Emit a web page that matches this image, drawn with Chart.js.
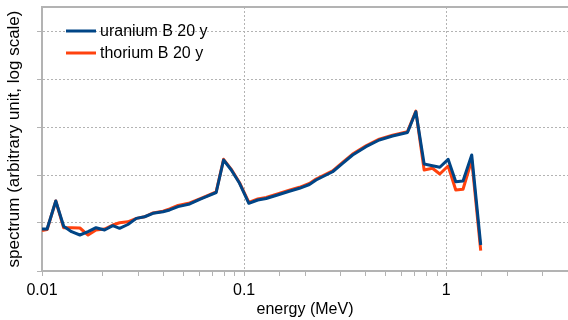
<!DOCTYPE html>
<html>
<head>
<meta charset="utf-8">
<script src="https://cdn.jsdelivr.net/npm/chart.js@4.4.0/dist/chart.umd.min.js"></script>
<style>
  html, body { margin: 0; padding: 0; background: #fff; }
  #wrap { width: 568px; height: 320px; }
</style>
</head>
<body>
<div id="wrap"><canvas id="chart" width="568" height="320"></canvas></div>
<script>
// energy (MeV)
const energies = [0.0100, 0.0106, 0.0117, 0.0128, 0.0140, 0.0154, 0.0169, 0.0185, 0.0204, 0.0224,
  0.0242, 0.0266, 0.0293, 0.0322, 0.0354, 0.0397, 0.0428, 0.0471, 0.0538, 0.0603,
  0.0650, 0.0727, 0.0791, 0.0864, 0.0949, 0.1055, 0.1168, 0.1285, 0.1462, 0.1657,
  0.1877, 0.2103, 0.2269, 0.2740, 0.3070, 0.3440, 0.4006, 0.4660, 0.5420, 0.6427,
  0.7070, 0.7770, 0.8540, 0.9288, 1.021, 1.114, 1.210, 1.336, 1.480];

// spectrum, arbitrary unit
const uranium = [7.50, 7.50, 28.7, 8.54, 6.59, 5.62, 6.59, 7.98, 7.15, 8.79,
  7.76, 9.31, 12.5, 13.5, 15.9, 17.2, 18.7, 21.9, 24.9, 31.2,
  35.3, 43.2, 205, 127, 67.1, 25.7, 30.1, 32.4, 38.3, 45.3,
  52.8, 63.4, 78.7, 117, 175, 261, 389, 536, 649, 768,
  2084, 169, 156, 145, 212, 72.5, 75, 261, 3.48];

const thorium = [7.0, 7.3, 28.7, 7.98, 7.98, 7.87, 5.62, 7.15, 7.50, 9.09,
  10.1, 10.6, 12.5, 13.5, 16.2, 17.6, 19.6, 23.2, 26.1, 31.8,
  36.5, 44.5, 212, 131, 69, 27.0, 31.6, 34.0, 40.2, 47.5,
  55.4, 66.5, 82.5, 122, 183, 272, 405, 560, 675, 800,
  2150, 127, 138, 105, 154, 48.7, 50.4, 205, 2.65];

const seriesLabels = ['uranium B 20 y', 'thorium B 20 y'];
const seriesColors = ['#004586', '#ff420e'];
const xTickLabels = ['0.01', '0.1', '1'];
const yGridValues = [1, 10, 100, 1000, 10000, 100000];

const gridGray = '#b3b3b3';
const font = "'Liberation Sans', Arial, sans-serif";

function isMajorX(v) {
  return xTickLabels.some(l => Math.abs(parseFloat(l) - v) < 1e-9);
}

function toPoints(ys) {
  return energies.map((e, i) => ({ x: e, y: ys[i] }));
}

// legend drawn inside the plot area, top left
const insideLegend = {
  id: 'insideLegend',
  afterDraw(chart) {
    const { ctx, chartArea } = chart;
    ctx.save();
    // top frame line
    ctx.strokeStyle = gridGray;
    ctx.lineWidth = 2;
    ctx.beginPath();
    ctx.moveTo(chartArea.left, chartArea.top);
    ctx.lineTo(chartArea.right, chartArea.top);
    ctx.stroke();

    ctx.font = '16px ' + font;
    ctx.textBaseline = 'middle';
    chart.data.datasets.forEach((ds, i) => {
      const y = chartArea.top + 24 + i * 22;
      ctx.strokeStyle = ds.borderColor;
      ctx.lineWidth = 3;
      ctx.beginPath();
      ctx.moveTo(chartArea.left + 24, y);
      ctx.lineTo(chartArea.left + 54, y);
      ctx.stroke();
      ctx.fillStyle = '#000';
      ctx.fillText(ds.label, chartArea.left + 58, y + 1);
    });
    ctx.restore();
  }
};

new Chart(document.getElementById('chart'), {
  type: 'line',
  data: {
    datasets: [
      {
        label: seriesLabels[0],
        data: toPoints(uranium),
        borderColor: seriesColors[0],
        backgroundColor: seriesColors[0],
        borderWidth: 3,
        pointRadius: 0,
        borderJoinStyle: 'round',
      },
      {
        label: seriesLabels[1],
        data: toPoints(thorium),
        borderColor: seriesColors[1],
        backgroundColor: seriesColors[1],
        borderWidth: 3,
        pointRadius: 0,
        borderJoinStyle: 'round',
      },
    ]
  },
  options: {
    responsive: false,
    animation: false,
    layout: { padding: { top: 7, right: 0, left: 0, bottom: 0 } },
    plugins: {
      legend: { display: false },
      tooltip: { enabled: false },
    },
    scales: {
      x: {
        type: 'logarithmic',
        min: 0.01,
        max: 4,
        afterBuildTicks: (axis) => {
          axis.ticks = axis.ticks.filter(t => t.value >= 0.01 && t.value <= 4);
        },
        afterFit: (axis) => {
          axis.height = 49;
          axis.paddingLeft = 0;
          axis.paddingRight = 0;
        },
        ticks: {
          autoSkip: false,
          maxRotation: 0,
          padding: 5,
          color: '#000',
          font: { family: font, size: 16 },
          callback: (v) => {
            const hit = xTickLabels.find(l => Math.abs(parseFloat(l) - v) < 1e-9);
            return hit || '';
          },
        },
        grid: {
          color: (c) => (c.tick && isMajorX(c.tick.value)) ? gridGray : 'rgba(0,0,0,0)',
          tickColor: gridGray,
          tickLength: 5,
          lineWidth: 1,
        },
        border: { color: gridGray, width: 2, dash: [2, 2] },
        title: {
          display: true,
          text: 'energy (MeV)',
          color: '#000',
          font: { family: font, size: 16 },
          padding: { top: 0, bottom: 1 },
        },
      },
      y: {
        type: 'logarithmic',
        min: 1,
        max: Math.pow(10, 5.5),
        afterBuildTicks: (axis) => {
          axis.ticks = yGridValues.map(v => ({ value: v }));
        },
        afterFit: (axis) => { axis.width = 42; },
        ticks: { display: false },
        grid: {
          color: gridGray,
          tickColor: gridGray,
          tickLength: 5,
          lineWidth: 1,
        },
        border: { color: gridGray, width: 2, dash: [2, 2] },
        title: {
          display: true,
          text: 'spectrum (arbitrary unit, log scale)',
          color: '#000',
          font: { family: font, size: 17 },
          padding: { top: 4, bottom: 0 },
        },
      },
    },
  },
  plugins: [insideLegend],
});
</script>
</body>
</html>
